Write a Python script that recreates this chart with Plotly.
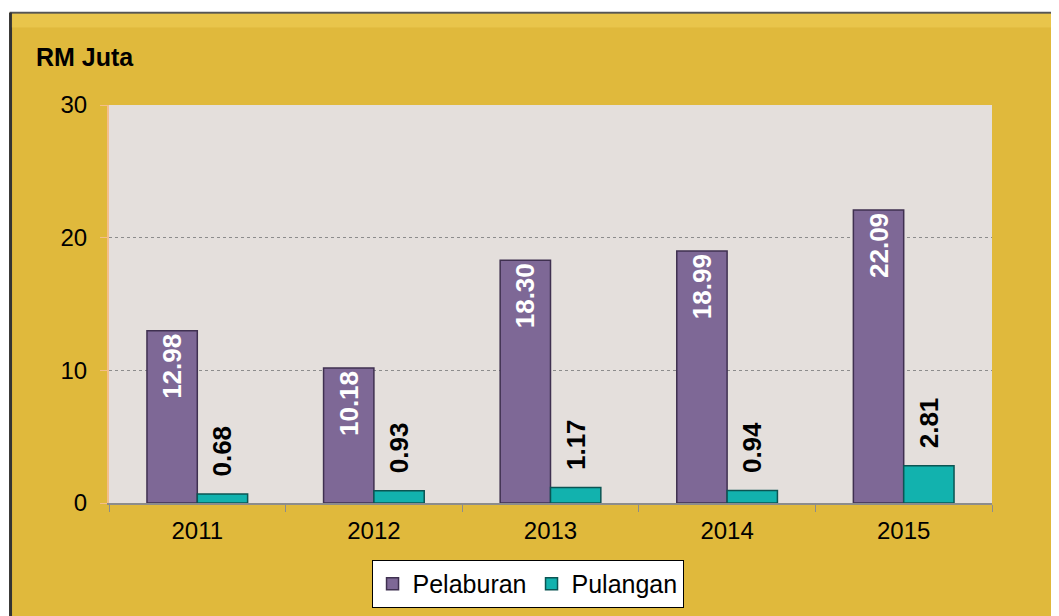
import plotly.graph_objects as go

# Data
years = ["2011", "2012", "2013", "2014", "2015"]
pelaburan = [12.98, 10.18, 18.30, 18.99, 22.09]
pulangan = [0.68, 0.93, 1.17, 0.94, 2.81]

gold = "#E0B93C"
purple = "#7E6896"
teal = "#12B2AE"
font_family = "Liberation Sans, Arial"

# non-breaking spaces lift the outside labels a little off the small bars
pad = "\u00a0\u00a0"

fig = go.Figure()
fig.add_trace(go.Bar(
    x=years, y=pelaburan, name="Pelaburan",
    marker=dict(color=purple, line=dict(color="#3F3050", width=1.5)),
    text=[f"{v:.2f}" for v in pelaburan],
    textposition="inside", insidetextanchor="end", textangle=-90,
    insidetextfont=dict(color="white", size=26, family=font_family, weight="bold"),
    constraintext="none", cliponaxis=False,
))
fig.add_trace(go.Bar(
    x=years, y=pulangan, name="Pulangan",
    marker=dict(color=teal, line=dict(color="#0B5553", width=1.5)),
    text=[pad + f"{v:.2f}" for v in pulangan],
    textposition="outside", textangle=-90,
    outsidetextfont=dict(color="black", size=26, family=font_family, weight="bold"),
    constraintext="none", cliponaxis=False,
))

# page body has an 8px margin, so the figure is 8px smaller than the window
fig.update_layout(
    width=1051, height=608,
    margin=dict(l=101, r=67, t=97, b=113, autoexpand=False),
    paper_bgcolor=gold,
    plot_bgcolor="#E4DFDC",
    barmode="group",
    bargap=0.43,
    bargroupgap=0,
    font=dict(family=font_family, size=24, color="black"),
    showlegend=True,
    legend=dict(
        orientation="h", x=0.474, xanchor="center", y=-0.143, yanchor="top",
        bgcolor="white", bordercolor="black", borderwidth=1,
        font=dict(size=25), traceorder="normal", itemwidth=30,
    ),
    xaxis=dict(
        showline=True, linecolor="#8C8C8C", linewidth=2,
        ticks="outside", tickson="boundaries", ticklen=7, tickcolor="#8C8C8C",
        tickfont=dict(size=24), showgrid=False, automargin=False,
        ticklabelstandoff=5,
    ),
    yaxis=dict(
        range=[0, 30], dtick=10, showline=True, linecolor="#F4BE8C", linewidth=2,
        ticks="outside", ticklen=7, tickcolor="#F4BE8C",
        tickfont=dict(size=24), automargin=False, ticklabelstandoff=8,
        showgrid=True, gridcolor="#8C8C8C", griddash="dot", gridwidth=1,
        zeroline=False,
    ),
    annotations=[dict(
        text="<b>RM Juta</b>", x=-0.085, y=1.12, xref="paper", yref="paper",
        xanchor="left", yanchor="middle", showarrow=False, font=dict(size=25),
    )],
    shapes=[
        # white strip above the gold frame
        dict(type="rect", xref="paper", yref="paper", x0=-0.2, x1=1.2, y0=1.233, y1=1.3,
             fillcolor="white", line=dict(width=0), layer="above"),
        # white strip left of the frame
        dict(type="rect", xref="paper", yref="paper", x0=-0.2, x1=-0.1125, y0=-0.4, y1=1.3,
             fillcolor="white", line=dict(width=0), layer="above"),
        # frame borders
        dict(type="line", xref="paper", yref="paper", x0=-0.1125, x1=1.2, y0=1.232, y1=1.232,
             line=dict(color="#555555", width=2), layer="above"),
        dict(type="line", xref="paper", yref="paper", x0=-0.1115, x1=-0.1115, y0=-0.4, y1=1.232,
             line=dict(color="#333333", width=3), layer="above"),
        # lighter bevel at top of frame
        dict(type="rect", xref="paper", yref="paper", x0=-0.110, x1=1.2, y0=1.195, y1=1.229,
             fillcolor="#F1D25A", opacity=0.5, line=dict(width=0), layer="above"),
    ],
)

fig.write_html("out.html")
